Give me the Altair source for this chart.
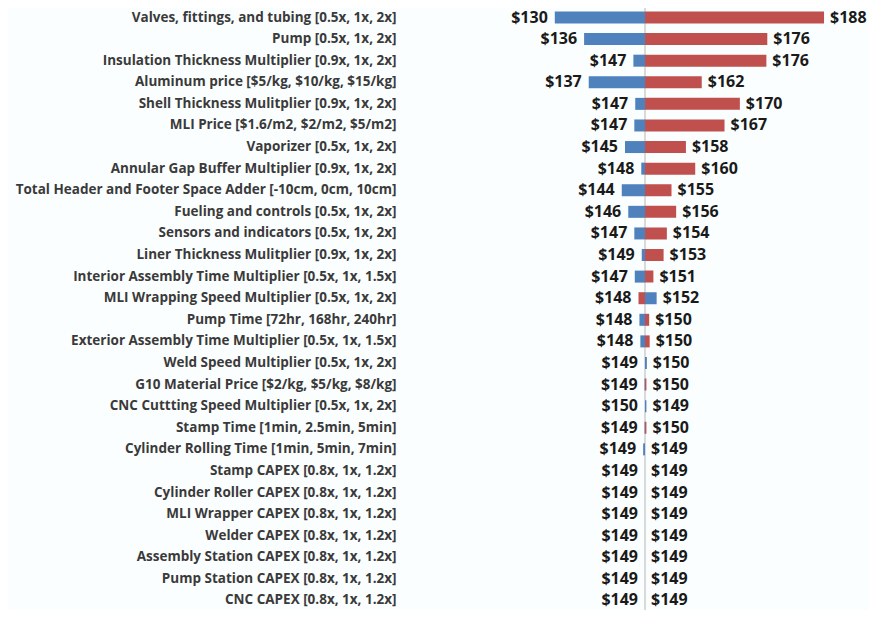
import altair as alt
import pandas as pd

BASE = 149.4

categories = [
    "Valves, fittings, and tubing [0.5x, 1x, 2x]",
    "Pump [0.5x, 1x, 2x]",
    "Insulation Thickness Multiplier [0.9x, 1x, 2x]",
    "Aluminum price [$5/kg, $10/kg, $15/kg]",
    "Shell Thickness Mulitplier [0.9x, 1x, 2x]",
    "MLI Price [$1.6/m2, $2/m2, $5/m2]",
    "Vaporizer [0.5x, 1x, 2x]",
    "Annular Gap Buffer Multiplier [0.9x, 1x, 2x]",
    "Total Header and Footer Space Adder [-10cm, 0cm, 10cm]",
    "Fueling and controls  [0.5x, 1x, 2x]",
    "Sensors and indicators [0.5x, 1x, 2x]",
    "Liner Thickness Mulitplier [0.9x, 1x, 2x]",
    "Interior Assembly Time Multiplier [0.5x, 1x, 1.5x]",
    "MLI Wrapping Speed Multiplier [0.5x, 1x, 2x]",
    "Pump Time [72hr, 168hr, 240hr]",
    "Exterior Assembly Time Multiplier [0.5x, 1x, 1.5x]",
    "Weld Speed Multiplier [0.5x, 1x, 2x]",
    "G10 Material Price [$2/kg, $5/kg, $8/kg]",
    "CNC Cuttting Speed Multiplier [0.5x, 1x, 2x]",
    "Stamp Time [1min, 2.5min, 5min]",
    "Cylinder Rolling Time [1min, 5min, 7min]",
    "Stamp CAPEX [0.8x, 1x, 1.2x]",
    "Cylinder Roller CAPEX [0.8x, 1x, 1.2x]",
    "MLI Wrapper CAPEX [0.8x, 1x, 1.2x]",
    "Welder CAPEX [0.8x, 1x, 1.2x]",
    "Assembly Station CAPEX [0.8x, 1x, 1.2x]",
    "Pump Station CAPEX [0.8x, 1x, 1.2x]",
    "CNC CAPEX [0.8x, 1x, 1.2x]",
]

# result at low input (blue) and high input (red)
low_vals = [130.0, 136.3, 146.9, 137.3, 147.3, 147.1, 145.1, 148.6, 144.4, 145.8,
            147.1, 148.7, 147.2, 151.9, 148.2, 148.4, 149.8, 149.3, 149.7, 149.3,
            149.0, 149.4, 149.4, 149.4, 149.4, 149.4, 149.4, 149.4]
high_vals = [187.9, 175.7, 175.5, 161.6, 169.8, 166.5, 158.2, 160.2, 155.1, 156.1,
             154.1, 153.4, 151.2, 148.0, 150.3, 150.4, 149.4, 149.7, 149.4, 149.7,
             149.4, 149.4, 149.4, 149.4, 149.4, 149.4, 149.4, 149.4]

left_labels = ["$130", "$136", "$147", "$137", "$147", "$147", "$145", "$148", "$144", "$146",
               "$147", "$149", "$147", "$148", "$148", "$148", "$149", "$149", "$150", "$149",
               "$149", "$149", "$149", "$149", "$149", "$149", "$149", "$149"]
right_labels = ["$188", "$176", "$176", "$162", "$170", "$167", "$158", "$160", "$155", "$156",
                "$154", "$153", "$151", "$152", "$150", "$150", "$150", "$150", "$149", "$150",
                "$149", "$149", "$149", "$149", "$149", "$149", "$149", "$149"]

rows = []
for c, lo, hi in zip(categories, low_vals, high_vals):
    rows.append({"Row": c, "Series": "Low", "Value": lo, "Base": BASE})
    rows.append({"Row": c, "Series": "High", "Value": hi, "Base": BASE})
bars_df = pd.DataFrame(rows)

lab_df = pd.DataFrame({
    "Row": categories,
    "Base": [BASE] * len(categories),
    "LeftPos": [min(a, b, BASE) for a, b in zip(low_vals, high_vals)],
    "RightPos": [max(a, b, BASE) for a, b in zip(low_vals, high_vals)],
    "LeftText": left_labels,
    "RightText": right_labels,
})

FONT = "Open Sans"
xscale = alt.Scale(domain=[96.71, 197.57], nice=False, zero=False)
yscale = alt.Scale(domain=categories, paddingInner=0.12, paddingOuter=0)

bars = alt.Chart(bars_df).mark_bar(size=12).encode(
    y=alt.Y("Row:N", scale=yscale,
            axis=alt.Axis(title=None, ticks=False, domain=False, labelPadding=4,
                          labelLimit=420, labelFont=FONT, labelFontSize=13.5,
                          labelFontWeight="bold", labelColor="#3a3a3a", grid=False)),
    x=alt.X("Value:Q", scale=xscale, axis=None),
    x2="Base:Q",
    color=alt.Color("Series:N",
                    scale=alt.Scale(domain=["Low", "High"], range=["#4f81bd", "#c0504d"]),
                    legend=None),
)

baseline = alt.Chart(lab_df).mark_rule(color="#d9d9d9", strokeWidth=1).encode(
    x=alt.X("Base:Q", scale=xscale, axis=None),
)

left_text = alt.Chart(lab_df).mark_text(
    align="right", baseline="middle", dx=-7, font=FONT, fontSize=16,
    fontWeight="bold", color="#1a1a1a"
).encode(
    y=alt.Y("Row:N", scale=yscale),
    x=alt.X("LeftPos:Q", scale=xscale, axis=None),
    text="LeftText:N",
)

right_text = alt.Chart(lab_df).mark_text(
    align="left", baseline="middle", dx=6, font=FONT, fontSize=16,
    fontWeight="bold", color="#1a1a1a"
).encode(
    y=alt.Y("Row:N", scale=yscale),
    x=alt.X("RightPos:Q", scale=xscale, axis=None),
    text="RightText:N",
)

chart = alt.layer(baseline, bars, left_text, right_text).properties(
    width=469, height=602,
    autosize=alt.AutoSizeParams(type="none"),
    padding={"left": 392, "top": 0, "right": 0, "bottom": 0},
    background="#fbfefe",
).configure_view(stroke=None)

chart.save("out.html", embed_options={"renderer": "svg", "actions": False})
